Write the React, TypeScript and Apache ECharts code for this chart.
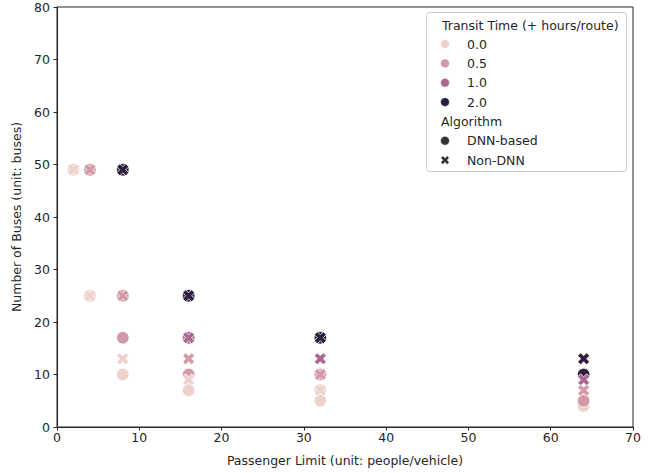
import React, { useEffect, useRef } from 'react';
import * as echarts from 'echarts';

// Axis ticks
const passengerLimitTicks = [0, 10, 20, 30, 40, 50, 60, 70];
const busTicks = [0, 10, 20, 30, 40, 50, 60, 70, 80];

// Hue levels (Transit Time, + hours/route)
const transitTimes = ['0.0', '0.5', '1.0', '2.0'];
const hueColors = ['#edd1cb', '#d499a7', '#aa678f', '#2d1e3e'];

// Style levels
const algorithms = ['DNN-based', 'Non-DNN'];

// DNN-based points [passenger limit, number of buses]
const dnnTransit00 = [[2, 49], [4, 25], [8, 10], [16, 7], [32, 7], [32, 5], [64, 4]];
const dnnTransit05 = [[4, 49], [8, 25], [8, 17], [16, 10], [32, 10], [64, 5]];
const dnnTransit10 = [[16, 17]];
const dnnTransit20 = [[8, 49], [16, 25], [32, 17], [64, 10]];

// Non-DNN points [passenger limit, number of buses]
const nonTransit00 = [[2, 49], [4, 25], [8, 13], [16, 9], [32, 7]];
const nonTransit05 = [[4, 49], [8, 25], [16, 13], [32, 10], [64, 7]];
const nonTransit10 = [[16, 17], [32, 13], [64, 9]];
const nonTransit20 = [[8, 49], [16, 25], [32, 17], [64, 13]];

const FONT = '"DejaVu Sans", sans-serif';
const FS = 12.5;
const TXT = '#262626';
const X_PATH = 'path://M75,0L100,25L75,50L100,75L75,100L50,75L25,100L0,75L25,50L0,25L25,0L50,25Z';
const X_TEMPLATE = [[75, 0], [100, 25], [75, 50], [100, 75], [75, 100], [50, 75], [25, 100], [0, 75], [25, 50], [0, 25], [25, 0], [50, 25]];

export default function App() {
  const ref = useRef<HTMLDivElement>(null);
  useEffect(() => {
    if (!ref.current) return;
    const chart = echarts.init(ref.current, undefined, { renderer: 'svg' });
    const dnnSets = [dnnTransit00, dnnTransit05, dnnTransit10, dnnTransit20];
    const nonSets = [nonTransit00, nonTransit05, nonTransit10, nonTransit20];

    const series: any[] = [];
    dnnSets.forEach((d, i) => {
      series.push({
        type: 'scatter',
        name: algorithms[0] + ' ' + transitTimes[i],
        data: d,
        symbol: 'circle',
        symbolSize: 12.5,
        itemStyle: { color: hueColors[i], borderColor: '#ffffff', borderWidth: 0.8, opacity: 1 },
        emphasis: { disabled: true },
      });
    });
    nonSets.forEach((d, i) => {
      series.push({
        type: 'scatter',
        name: algorithms[1] + ' ' + transitTimes[i],
        data: d,
        symbol: X_PATH,
        symbolSize: 12,
        itemStyle: { color: hueColors[i], borderColor: '#ffffff', borderWidth: 0.8, opacity: 1 },
        emphasis: { disabled: true },
      });
    });

    const lx = 445;
    const tx = 467;
    const rowY = (k: number) => 44 + k * 19.35;
    const textStyle = (text: string, x: number, y: number) => ({
      type: 'text',
      x,
      y,
      style: { text, fill: TXT, font: `${FS}px ${FONT}`, align: 'left', verticalAlign: 'middle' },
    });
    const graphic: any[] = [
      {
        type: 'rect',
        shape: { x: 426.5, y: 12.5, width: 200, height: 159, r: 3 },
        style: { fill: 'rgba(255,255,255,0.8)', stroke: '#cccccc', lineWidth: 1 },
      },
      textStyle('Transit Time (+ hours/route)', 442, 25),
    ];
    transitTimes.forEach((t, i) => {
      graphic.push({
        type: 'circle',
        shape: { cx: lx, cy: rowY(i), r: 4.4 },
        style: { fill: hueColors[i], stroke: '#ffffff', lineWidth: 0.5 },
      });
      graphic.push(textStyle(t, tx, rowY(i)));
    });
    graphic.push(textStyle('Algorithm', 441, rowY(4)));
    graphic.push({
      type: 'circle',
      shape: { cx: lx, cy: rowY(5), r: 4.4 },
      style: { fill: '#333333', stroke: '#ffffff', lineWidth: 0.5 },
    });
    graphic.push(textStyle(algorithms[0], tx, rowY(5)));
    const xs = 8.6 / 100;
    graphic.push({
      type: 'polygon',
      shape: { points: X_TEMPLATE.map(([a, b]) => [lx - 4.3 + a * xs, rowY(6) - 4.3 + b * xs]) },
      style: { fill: '#333333', stroke: '#ffffff', lineWidth: 0.5 },
    });
    graphic.push(textStyle(algorithms[1], tx, rowY(6)));

    chart.setOption({
      animation: false,
      textStyle: { fontFamily: FONT },
      grid: {
        left: 57,
        right: 18,
        top: 7,
        bottom: 46,
        show: true,
        borderColor: TXT,
        borderWidth: 1,
        backgroundColor: 'transparent',
      },
      xAxis: {
        type: 'value',
        min: passengerLimitTicks[0],
        max: passengerLimitTicks[passengerLimitTicks.length - 1],
        interval: 10,
        name: 'Passenger Limit (unit: people/vehicle)',
        nameLocation: 'middle',
        nameGap: 27,
        nameTextStyle: { fontSize: FS, color: TXT, fontFamily: FONT },
        axisLine: { show: true, onZero: false, lineStyle: { color: TXT, width: 1 } },
        axisTick: { show: true, length: 3.5, lineStyle: { color: TXT, width: 1 } },
        axisLabel: { fontSize: FS, color: TXT, margin: 4, fontFamily: FONT, showMinLabel: true, showMaxLabel: true },
        splitLine: { show: false },
      },
      yAxis: {
        type: 'value',
        min: busTicks[0],
        max: busTicks[busTicks.length - 1],
        interval: 10,
        name: 'Number of Buses (unit: buses)',
        nameLocation: 'middle',
        nameGap: 31,
        nameTextStyle: { fontSize: FS, color: TXT, fontFamily: FONT },
        axisLine: { show: true, onZero: false, lineStyle: { color: TXT, width: 1 } },
        axisTick: { show: true, length: 3.5, lineStyle: { color: TXT, width: 1 } },
        axisLabel: { fontSize: FS, color: TXT, margin: 7, fontFamily: FONT, showMinLabel: true, showMaxLabel: true },
        splitLine: { show: false },
      },
      series,
      graphic,
    });
    return () => chart.dispose();
  }, []);
  return (
    <div
      ref={ref}
      style={{ position: 'fixed', left: 0, top: 0, width: 651, height: 473, background: '#ffffff' }}
    />
  );
}
